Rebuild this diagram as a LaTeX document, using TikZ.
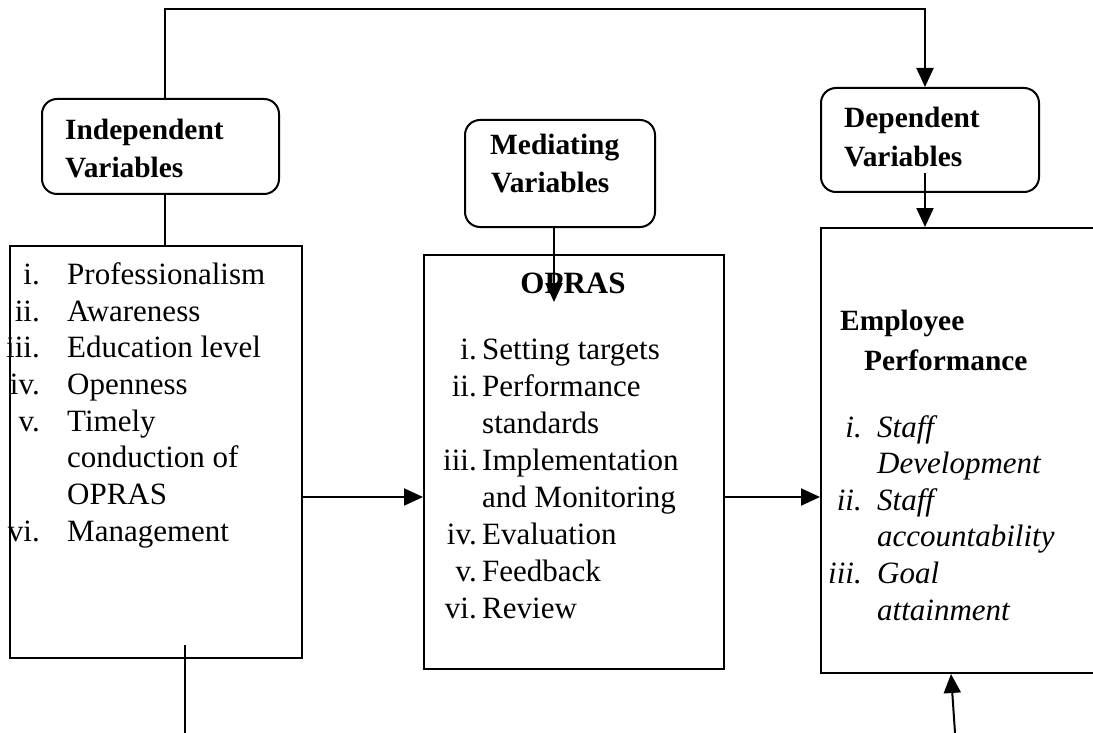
\documentclass[tikz,border=0pt]{standalone}
\usepackage{fontspec}
\setmainfont{Liberation Serif}
\usetikzlibrary{arrows.meta}
\begin{document}
\begin{tikzpicture}[x=1pt,y=-1pt,
  ln/.style={line width=2pt},
  arr/.style={-{Triangle[length=19pt,width=17pt]}},
  rbox/.style={draw, line width=2pt, rounded corners=15pt, anchor=north west, inner sep=0pt},
  sbox/.style={draw, line width=2pt, anchor=north west, inner sep=0pt},
  hd/.style={font=\fontsize{29.4}{36}\selectfont\bfseries, inner sep=0pt, anchor=base west},
  tx/.style={font=\fontsize{31}{37}\selectfont, inner sep=0pt, anchor=base west},
  lb/.style={font=\fontsize{31}{37}\selectfont, inner sep=0pt, anchor=base east},
  itx/.style={font=\fontsize{31}{37}\selectfont\itshape, inner sep=0pt, anchor=base west},
  ilb/.style={font=\fontsize{31}{37}\selectfont\itshape, inner sep=0pt, anchor=base east}]
\clip (0,0) rectangle (1093,733);

% boxes
\node[rbox, minimum width=237pt, minimum height=95pt] (indep) at (41,98) {};
\node[rbox, minimum width=190pt, minimum height=107pt] (med) at (464,119) {};
\node[rbox, minimum width=218pt, minimum height=104pt] (dep) at (820,87) {};
\node[sbox, minimum width=292pt, minimum height=412pt] (list) at (9,245) {};
\node[sbox, minimum width=300pt, minimum height=414pt] (opras) at (423,254) {};
\node[sbox, minimum width=290pt, minimum height=445pt] (emp) at (820,227) {};

% headings
\node[hd] (h1a) at (65,140) {Independent};
\node[hd] (h1b) at (65,178) {Variables};
\node[hd] (h2a) at (490,155) {Mediating};
\node[hd] (h2b) at (491,193) {Variables};
\node[hd] (h3a) at (844,128) {Dependent};
\node[hd] (h3b) at (844,167) {Variables};
\node[font=\fontsize{31}{37}\selectfont\bfseries, inner sep=0pt, anchor=base] (oh) at (573,293) {OPRAS};
\node[hd] (eh1) at (840,330) {Employee};
\node[hd] (eh2) at (864,370) {Performance};

% left list
\node[lb] (l1) at (40,284) {i.};
\node[lb] (l2) at (40,321) {ii.};
\node[lb] (l3) at (40,357) {iii.};
\node[lb] (l4) at (40,394) {iv.};
\node[lb] (l5) at (40,431) {v.};
\node[lb] (l6) at (40,541) {vi.};
\node[tx] (t1) at (67,284) {Professionalism};
\node[tx] (t2) at (67,321) {Awareness};
\node[tx] (t3) at (67,357) {Education level};
\node[tx] (t4) at (67,394) {Openness};
\node[tx] (t5) at (67,431) {Timely};
\node[tx] (t6) at (67,467) {conduction of};
\node[tx] (t7) at (67,504) {OPRAS};
\node[tx] (t8) at (67,541) {Management};

% OPRAS list
\node[lb] (m1) at (477,359) {i.};
\node[lb] (m2) at (477,396) {ii.};
\node[lb] (m3) at (477,470) {iii.};
\node[lb] (m4) at (477,544) {iv.};
\node[lb] (m5) at (477,581) {v.};
\node[lb] (m6) at (477,618) {vi.};
\node[tx] (s1) at (482,359) {Setting targets};
\node[tx] (s2) at (482,396) {Performance};
\node[tx] (s3) at (482,433) {standards};
\node[tx] (s4) at (482,470) {Implementation};
\node[tx] (s5) at (482,507) {and Monitoring};
\node[tx] (s6) at (482,544) {Evaluation};
\node[tx] (s7) at (482,581) {Feedback};
\node[tx] (s8) at (482,618) {Review};

% Employee list
\node[ilb] (e1) at (862,437) {i.};
\node[ilb] (e2) at (862,510) {ii.};
\node[ilb] (e3) at (862,583) {iii.};
\node[itx] (u1) at (877,437) {Staff};
\node[itx] (u2) at (877,473) {Development};
\node[itx] (u3) at (877,510) {Staff};
\node[itx] (u4) at (877,546) {accountability};
\node[itx] (u5) at (877,583) {Goal};
\node[itx] (u6) at (877,620) {attainment};

% connectors
\coordinate (tl) at (165,9);
\coordinate (tr) at (925,9);
\draw[ln,arr] (indep.north -| tl) -- (tl) -- (tr) -- (tr |- dep.north);
\draw[ln] (indep.south -| tl) -- (list.north -| tl);
\coordinate (mx) at (554,302);
\draw[ln,arr] (med.south -| mx) -- (mx);
\coordinate (dx) at (925,173);
\draw[ln,arr] (dx) -- (emp.north -| dx);
\coordinate (ay) at (0,497);
\draw[ln,arr] (list.east |- ay) -- (opras.west |- ay);
\draw[ln,arr] (opras.east |- ay) -- (emp.west |- ay);
\coordinate (b1) at (185,645);
\coordinate (b2) at (185,740);
\draw[ln] (b1) -- (b2);
\coordinate (b3) at (955.5,740);
\coordinate (b4) at (951,0);
\draw[ln,arr] (b3) -- (emp.south -| b4);
\end{tikzpicture}
\end{document}
